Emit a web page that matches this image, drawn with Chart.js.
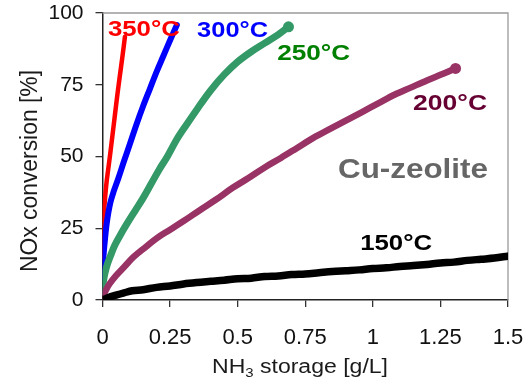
<!DOCTYPE html>
<html><head><meta charset="utf-8">
<script src="https://cdn.jsdelivr.net/npm/chart.js@4/dist/chart.umd.min.js"></script>
<style>html,body{margin:0;padding:0;background:#fff;}#wrap{width:529px;height:390px;}</style>
</head><body><div id="wrap"><canvas id="c" width="529" height="390"></canvas></div>
<script>
// ---- data ----
const xTicks = [0, 0.25, 0.5, 0.75, 1, 1.25, 1.5];
const xTickLabels = ['0', '0.25', '0.5', '0.75', '1', '1.25', '1.5'];
const yTicks = [0, 25, 50, 75, 100];

const x350 = [0, 0.002, 0.005, 0.01, 0.015, 0.021, 0.028, 0.037, 0.046, 0.055, 0.064, 0.074, 0.083];
const y350 = [15, 24, 30, 36, 41, 45.5, 50.5, 57.5, 64.5, 71.5, 78, 85, 91.7];

const x300 = [0, 0.002, 0.005, 0.009, 0.016, 0.028, 0.042, 0.059, 0.08, 0.1, 0.125, 0.15, 0.175, 0.2, 0.225, 0.25, 0.275];
const y300 = [8, 13, 17, 21, 27, 33.5, 38, 42.5, 48.5, 54, 61, 67.5, 73.5, 79.5, 85, 90.5, 95.8];

const x250 = [0, 0.002, 0.006, 0.012, 0.02, 0.03, 0.045, 0.065, 0.09, 0.12, 0.15, 0.18, 0.21, 0.24, 0.275, 0.31, 0.35, 0.4, 0.45, 0.5, 0.55, 0.6, 0.65, 0.688];
const y250 = [3, 5.5, 8, 10.5, 13, 15.5, 19, 22.5, 26.5, 31, 35.5, 40.5, 45.5, 50, 56, 61, 66.5, 73, 78.5, 83, 86.5, 89.5, 92.5, 95.2];

const x200 = [0, 0.01, 0.025, 0.05, 0.08, 0.115, 0.16, 0.2, 0.25, 0.3, 0.36, 0.42, 0.48, 0.54, 0.6, 0.66, 0.72, 0.78, 0.84, 0.9, 0.96, 1.02, 1.08, 1.14, 1.2, 1.26, 1.306];
const y200 = [1, 3, 5.5, 8.5, 11.5, 15, 18.5, 21.5, 24.5, 27.5, 31.3, 35, 39, 42.5, 46.2, 49.5, 53, 56.5, 59.5, 62.5, 65.5, 68.5, 71.5, 74, 76.5, 78.8, 80.7];

const x150 = [0, 0.02, 0.05, 0.08, 0.11, 0.15, 0.2, 0.25, 0.3, 0.35, 0.4, 0.45, 0.5, 0.55, 0.6, 0.65, 0.7, 0.75, 0.8, 0.85, 0.9, 0.95, 1.0, 1.05, 1.1, 1.15, 1.2, 1.25, 1.3, 1.35, 1.4, 1.45, 1.5];
const y150 = [0, 0.8, 1.7, 2.5, 3.2, 3.6, 4.4, 4.9, 5.6, 6.1, 6.5, 6.9, 7.4, 7.6, 8.2, 8.4, 8.9, 9.1, 9.5, 9.9, 10.2, 10.5, 11.0, 11.2, 11.7, 12.0, 12.4, 12.9, 13.2, 13.8, 14.2, 14.6, 15.3];

const seriesNames = ['150°C', '200°C', '250°C', '300°C', '350°C'];
const boxLabel = 'Cu-zeolite';
const xTitle = ['NH', '3', ' storage [g/L]'];
const yTitle = 'NOx conversion [%]';

// ---- styling / layout (not data) ----
const FONT = '"Liberation Sans", Arial, sans-serif';
function pts(xs, ys) { return xs.map((x, i) => ({ x: x, y: ys[i] })); }
function endDot(n, r) { return Array.from({ length: n }, (_, i) => i === n - 1 ? r : 0); }

const annotations = [
  { text: seriesNames[4], color: '#ff0000', x: 0.020, y: 92.0, w: 72, size: 22 },
  { text: seriesNames[3], color: '#0000ff', x: 0.350, y: 91.6, w: 71, size: 22 },
  { text: seriesNames[2], color: '#008000', x: 0.646, y: 83.6, w: 73, size: 22 },
  { text: seriesNames[1], color: '#660033', x: 1.149, y: 66.2, w: 74, size: 22 },
  { text: seriesNames[0], color: '#000000', x: 0.953, y: 17.4, w: 72, size: 22 },
  { text: boxLabel, color: '#666666', x: 0.871, y: 42.5, w: 150, size: 28 }
];

function fitText(ctx, text, x, y, w) {
  const m = ctx.measureText(text).width;
  ctx.save(); ctx.translate(x, y); ctx.scale(w / m, 1); ctx.fillText(text, 0, 0); ctx.restore();
}

const decor = {
  id: 'decor',
  beforeDatasetsDraw(chart) {
    const { ctx, chartArea: a } = chart;
    ctx.save();
    ctx.strokeStyle = '#9a9a9a'; ctx.lineWidth = 1.3;
    ctx.beginPath();
    ctx.moveTo(a.left, a.top); ctx.lineTo(a.right, a.top); ctx.lineTo(a.right, a.bottom);
    ctx.stroke();
    ctx.restore();
  },
  afterDraw(chart) {
    const { ctx, scales } = chart;
    ctx.save();
    ctx.textBaseline = 'alphabetic'; ctx.textAlign = 'left';
    annotations.forEach(an => {
      ctx.font = 'bold ' + an.size + 'px ' + FONT;
      ctx.fillStyle = an.color;
      fitText(ctx, an.text, scales.x.getPixelForValue(an.x), scales.y.getPixelForValue(an.y), an.w);
    });
    // x title with subscript
    ctx.fillStyle = '#1a1a1a';
    const big = '20px ' + FONT, small = '13px ' + FONT;
    ctx.font = big; const w0 = ctx.measureText(xTitle[0]).width;
    ctx.font = small; const w1 = ctx.measureText(xTitle[1]).width;
    ctx.font = big; const w2 = ctx.measureText(xTitle[2]).width;
    const target = 176, s = target / (w0 + w1 + w2);
    ctx.save();
    ctx.translate(212, 373); ctx.scale(s, 1);
    ctx.font = big; ctx.fillText(xTitle[0], 0, 0);
    ctx.font = small; ctx.fillText(xTitle[1], w0, 4);
    ctx.font = big; ctx.fillText(xTitle[2], w0 + w1, 0);
    ctx.restore();
    // y title rotated
    ctx.save();
    ctx.translate(37, 171); ctx.rotate(-Math.PI / 2);
    ctx.font = '23px ' + FONT; ctx.textAlign = 'left';
    const m = ctx.measureText(yTitle).width;
    ctx.scale(202 / m, 1);
    ctx.fillText(yTitle, -m / 2, 0);
    ctx.restore();
    ctx.restore();
  }
};

const common = { fill: false, borderCapStyle: 'round', borderJoinStyle: 'round', tension: 0.35, pointBorderWidth: 0, pointHoverRadius: 0 };

function noPad(s) { s.paddingLeft = 0; s.paddingRight = 0; s.paddingTop = 0; s.paddingBottom = 0; }

new Chart(document.getElementById('c'), {
  type: 'line',
  data: {
    datasets: [
      Object.assign({}, common, { label: seriesNames[0], data: pts(x150, y150), borderColor: '#000000', backgroundColor: '#000000', borderWidth: 7.5, pointRadius: 0 }),
      Object.assign({}, common, { label: seriesNames[1], data: pts(x200, y200), borderColor: '#993366', backgroundColor: '#993366', borderWidth: 6.5, pointRadius: endDot(x200.length, 5.5) }),
      Object.assign({}, common, { label: seriesNames[2], data: pts(x250, y250), borderColor: '#339966', backgroundColor: '#339966', borderWidth: 7, pointRadius: endDot(x250.length, 5.5) }),
      Object.assign({}, common, { label: seriesNames[3], data: pts(x300, y300), borderColor: '#0000ff', backgroundColor: '#0000ff', borderWidth: 6, pointRadius: 0 }),
      Object.assign({}, common, { label: seriesNames[4], data: pts(x350, y350), borderColor: '#ff0000', backgroundColor: '#ff0000', borderWidth: 4.5, pointRadius: 0 })
    ]
  },
  options: {
    responsive: false, animation: false, devicePixelRatio: 1,
    layout: { padding: { left: 0, top: 13, right: 21, bottom: 0 } },
    plugins: { legend: { display: false }, tooltip: { enabled: false } },
    scales: {
      x: {
        type: 'linear', min: 0, max: 1.5,
        afterBuildTicks: s => { s.ticks = xTicks.map(v => ({ value: v })); },
        afterFit: s => { s.height = 90; noPad(s); },
        ticks: { callback: (v, i) => xTickLabels[i], font: { family: FONT, size: 22 }, color: '#111', padding: 18, maxRotation: 0, autoSkip: false },
        grid: { drawOnChartArea: false, drawTicks: true, tickLength: 7, color: '#333', lineWidth: 1.3 },
        border: { display: true, color: '#222', width: 1.5 }
      },
      y: {
        type: 'linear', min: 0, max: 100,
        afterBuildTicks: s => { s.ticks = yTicks.map(v => ({ value: v })); },
        afterFit: s => { s.width = 102.5; noPad(s); },
        ticks: { font: { family: FONT, size: 21 }, color: '#111', padding: 12 },
        grid: { drawOnChartArea: false, drawTicks: true, tickLength: 7, color: '#333', lineWidth: 1.3 },
        border: { display: true, color: '#222', width: 1.5 }
      }
    }
  },
  plugins: [decor]
});
</script>
</body></html>
